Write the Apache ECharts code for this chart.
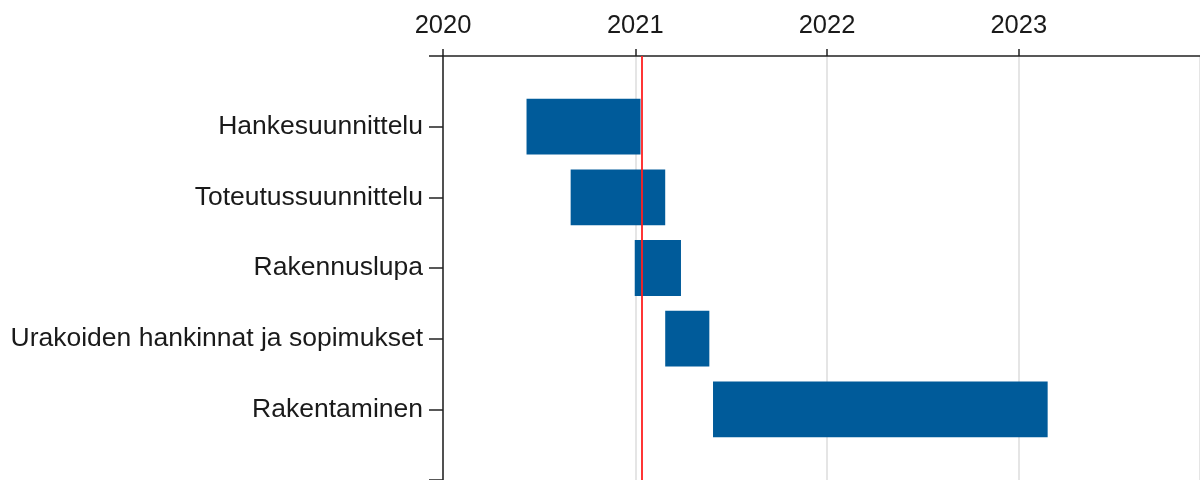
<!DOCTYPE html>
<html><head><meta charset="utf-8">
<script src="https://cdn.jsdelivr.net/npm/echarts@6/dist/echarts.min.js"></script>
<style>html,body{margin:0;padding:0;background:#fff}#c{width:1200px;height:480px}</style>
</head><body><div id="c"></div>
<script>
const categories = ['Hankesuunnittelu','Toteutussuunnittelu','Rakennuslupa','Urakoiden hankinnat ja sopimukset','Rakentaminen'];
const startDates = ['2020-06-08','2020-08-31','2020-12-31','2021-02-27','2021-05-29'];
const endDates   = ['2021-01-11','2021-02-27','2021-03-29','2021-05-22','2023-02-25'];
const todayLine = '2021-01-13';
const axisMin = '2020-01-01';
const axisMax = '2023-12-12';

const chart = echarts.init(document.getElementById('c'));
const data = categories.map((c,i)=>[i+1, +new Date(startDates[i]), +new Date(endDates[i])]);
chart.setOption({
  animation:false,
  grid:{left:443, right:0, top:56, bottom:-1},
  xAxis:{
    type:'time', position:'top', min:+new Date(axisMin), max:+new Date(axisMax),
    splitNumber:4, minInterval:365*24*3600*1000,
    axisLine:{lineStyle:{color:'#222',width:1.5}},
    axisTick:{show:true,length:7,lineStyle:{color:'#222',width:1.5}},
    axisLabel:{formatter:'{yyyy}',fontFamily:'Liberation Sans, Arial',fontSize:25.5,color:'#1a1a1a',margin:17},
    splitLine:{show:true,lineStyle:{color:'#dcdcdc',width:1.5}}
  },
  yAxis:{
    type:'value', inverse:true, min:0, max:6, interval:1,
    axisLine:{show:true,lineStyle:{color:'#222',width:1.5}},
    axisTick:{show:true,length:14,lineStyle:{color:'#222',width:1.5}},
    axisLabel:{formatter:v=>categories[v-1]||'',fontFamily:'Liberation Sans, Arial',fontSize:26.5,color:'#1a1a1a',margin:20},
    splitLine:{show:false}
  },
  series:[{
    type:'custom',
    data:data,
    encode:{x:[1,2],y:0},
    renderItem:function(params,api){
      const y=api.value(0);
      const s=api.coord([api.value(1),y]);
      const e=api.coord([api.value(2),y]);
      const h=api.size([0,1])[1]*0.79;
      return {type:'rect',shape:{x:s[0],y:s[1]-h/2,width:e[0]-s[0],height:h},style:{fill:'#005b9a'}};
    },
    markLine:{
      silent:true, symbol:'none', label:{show:false},
      lineStyle:{color:'#ff2020',width:1.8,type:'solid'},
      data:[{xAxis:+new Date(todayLine)}]
    },
    z:3
  }]
});
</script></body></html>
